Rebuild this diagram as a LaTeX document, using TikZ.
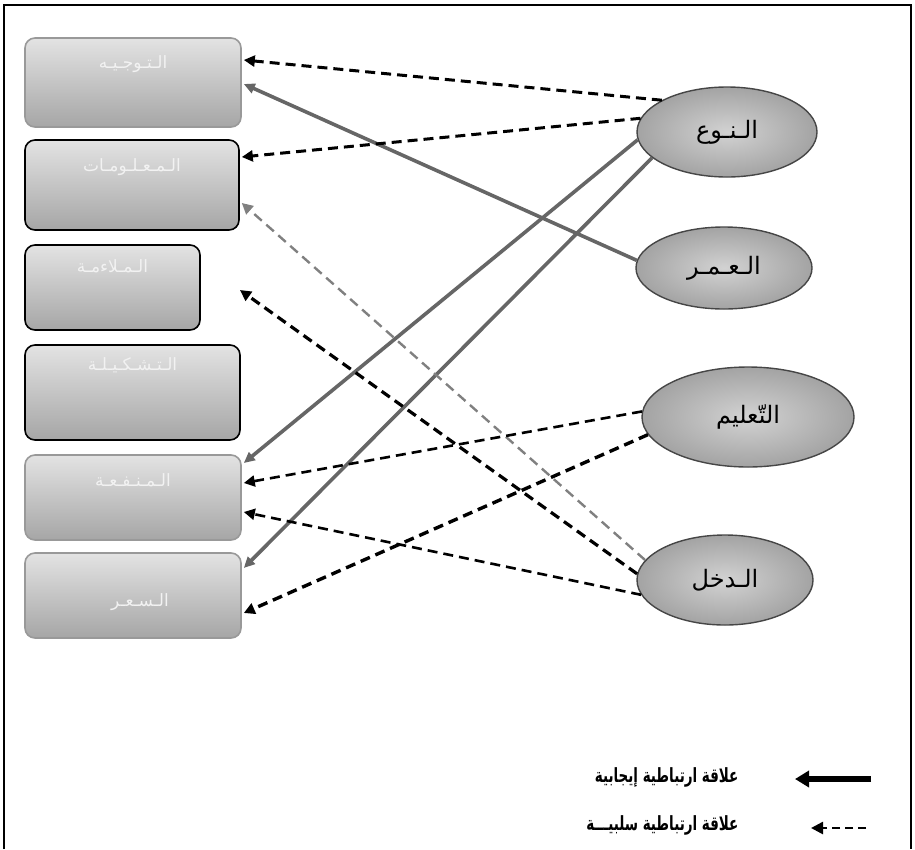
\documentclass[tikz,border=0pt]{standalone}
\usepackage{fontspec}
\newfontfamily\arabicfont[Script=Arabic]{DejaVu Sans}
\TeXXeTstate=1
\usetikzlibrary{arrows.meta,shapes.geometric}
\tikzset{
  boxst/.style={rectangle, rounded corners=10pt, line width=1.6pt, top color=gray!22, bottom color=gray!70, inner sep=0pt},
  darkbox/.style={boxst, draw=black},
  lightbox/.style={boxst, draw=gray!80},
  boxtext/.style={text=white!90!gray, font=\arabicfont\fontsize{17}{19}\selectfont, anchor=north},
  ellst/.style={ellipse, draw=gray!55!black, line width=1.4pt, inner color=gray!35, outer color=gray!72, inner sep=0pt, font=\arabicfont\fontsize{24}{26}\selectfont},
  posline/.style={draw=gray!80!black, line width=3.6pt, -{Triangle[length=11pt,width=10pt]}},
  negline/.style={draw=black, line width=3pt, dash pattern=on 10pt off 6pt, -{Triangle[length=11pt,width=11pt]}},
  greyneg/.style={negline, draw=black!50, line width=2.4pt},
  legtext/.style={font=\arabicfont\bfseries\fontsize{13.5}{16}\selectfont, anchor=east, yscale=1.45, transform shape}
}
\begin{document}
\begin{tikzpicture}[x=1pt,y=-1pt]
\useasboundingbox (0,0) rectangle (915,849);
\draw[line width=1.6pt] (4,849) -- (4,5) -- (911,5) -- (911,849);

% boxes
\node[lightbox, minimum width=216, minimum height=89] (b1) at (133,82.5) {};
\node[boxtext] (t1) at (133,52) {\beginR الـتـوجـيـه\endR};
\node[darkbox, minimum width=214, minimum height=90] (b2) at (132,185) {};
\node[boxtext] (t2) at (132,155) {\beginR الـمـعـلـومـات\endR};
\node[darkbox, minimum width=175, minimum height=85] (b3) at (112.5,287.5) {};
\node[boxtext] (t3) at (112.5,256) {\beginR الـمـلاءمـة\endR};
\node[darkbox, minimum width=215, minimum height=95] (b4) at (132.5,392.5) {};
\node[boxtext] (t4) at (132.5,354) {\beginR الـتـشـكـيـلـة\endR};
\node[lightbox, minimum width=216, minimum height=85] (b5) at (133,497.5) {};
\node[boxtext] (t5) at (133,470) {\beginR الـمـنـفـعـة\endR};
\node[lightbox, minimum width=216, minimum height=85] (b6) at (133,595.5) {};
\node[boxtext] (t6) at (140,590) {\beginR الـسـعـر\endR};

% ellipses
\node[ellst, minimum width=180, minimum height=90] (e1) at (727,132) {\beginR الـنـوع\endR};
\node[ellst, minimum width=176, minimum height=82] (e2) at (724,268) {\beginR الـعـمـر\endR};
\node[ellst, minimum width=212, minimum height=100] (e3) at (748,417) {\beginR التّعليم\endR};
\node[ellst, minimum width=176, minimum height=90] (e4) at (725,580) {\beginR الـدخل\endR};

\coordinate (m3) at (240,290);

% positive (solid)
\draw[posline] (e2.175) -- ([yshift=-1.5pt,xshift=2pt]b1.east);
\draw[posline] (e1.185) -- ([yshift=34.5pt,xshift=2pt]b5.east);
\draw[posline] (e1.199) -- ([yshift=27.5pt,xshift=2pt]b6.east);

% negative (dashed)
\draw[negline] (e1.154) -- ([yshift=22.5pt,xshift=2pt]b1.east);
\draw[negline] (e1.171) -- ([yshift=28pt,xshift=2pt]b2.east);
\draw[greyneg] (e4.166) -- ([yshift=-18pt,xshift=2pt]b2.east);
\draw[negline, line width=3.2pt] (e4.176) -- (m3);
\draw[negline, line width=2.6pt] (e3.177) -- ([yshift=14.5pt,xshift=2pt]b5.east);
\draw[negline, line width=2.6pt] (e4.190) -- ([yshift=-14.5pt,xshift=2pt]b5.east);
\draw[negline, line width=3.4pt] (e3.190) -- ([yshift=-17.5pt,xshift=2pt]b6.east);

% legend
\coordinate (l1a) at (871,779);
\coordinate (l1b) at (795,779);
\coordinate (l2a) at (866,828);
\coordinate (l2b) at (811,828);
\draw[line width=6pt, -{Triangle[length=14pt,width=16pt]}] (l1a) -- (l1b);
\draw[line width=2.6pt, dash pattern=on 8pt off 5pt, -{Triangle[length=12pt,width=12pt]}] (l2a) -- (l2b);
\node[legtext] (lg1) at (742,777) {\beginR علاقة ارتباطية إيجابية\endR};
\node[legtext] (lg2) at (742,825) {\beginR علاقة ارتباطية سلبيـــة\endR};
\end{tikzpicture}
\end{document}
